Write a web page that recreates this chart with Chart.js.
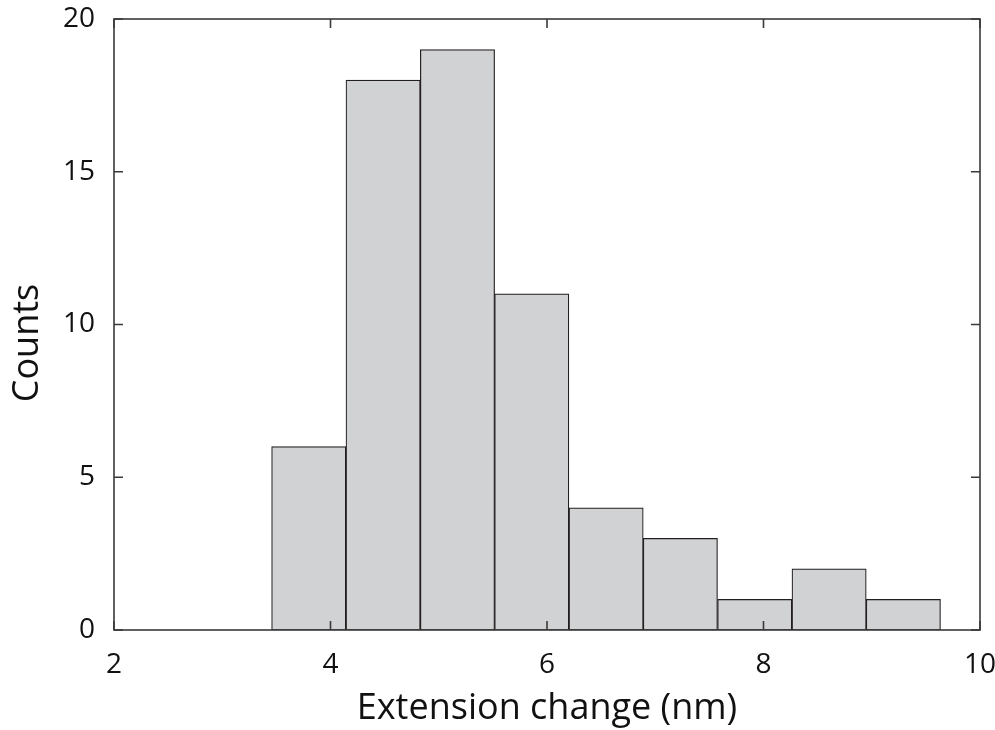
<!DOCTYPE html>
<html>
<head>
<meta charset="utf-8">
<script src="https://cdn.jsdelivr.net/npm/chart.js@4/dist/chart.umd.min.js"></script>
<style>
  html, body { margin: 0; padding: 0; background: #fff; }
  #wrap { width: 995px; height: 730px; }
</style>
</head>
<body>
<div id="wrap"><canvas id="hist"></canvas></div>
<script>
// histogram bins (centre of each bin, nm) and counts
var binCenters = [3.799, 4.486, 5.173, 5.859, 6.546, 7.232, 7.919, 8.606, 9.292];
var counts = [6, 18, 19, 11, 4, 3, 1, 2, 1];
var xTicks = [2, 4, 6, 8, 10];
var yTicks = [0, 5, 10, 15, 20];

var FONT = '"Open Sans", sans-serif';

// frame + inward ticks on all four sides, and the y title
var framePlugin = {
    id: 'frame',
    afterDatasetsDraw: function (chart) {
        var ctx = chart.ctx;
        var a = chart.chartArea;
        var xs = chart.scales.x, ys = chart.scales.y;
        var tl = 9;
        ctx.save();
        ctx.strokeStyle = '#3a3a3a';
        ctx.lineWidth = 1.6;
        ctx.strokeRect(a.left, a.top, a.right - a.left, a.bottom - a.top);
        ctx.beginPath();
        xTicks.forEach(function (v) {
            var px = xs.getPixelForValue(v);
            ctx.moveTo(px, a.bottom); ctx.lineTo(px, a.bottom - tl);
            ctx.moveTo(px, a.top); ctx.lineTo(px, a.top + tl);
        });
        yTicks.forEach(function (v) {
            var py = ys.getPixelForValue(v);
            ctx.moveTo(a.left, py); ctx.lineTo(a.left + tl, py);
            ctx.moveTo(a.right, py); ctx.lineTo(a.right - tl, py);
        });
        ctx.stroke();

        // y axis title
        ctx.fillStyle = '#111';
        ctx.font = '36px ' + FONT;
        ctx.textAlign = 'center';
        ctx.textBaseline = 'middle';
        ctx.translate(28, 343);
        ctx.rotate(-Math.PI / 2);
        ctx.fillText('Counts', 0, 0);
        ctx.restore();
    }
};

// drop the automatic label-overflow padding so the plot area is set by layout.padding
function noOverflow(scale) {
    scale.paddingTop = 0;
    scale.paddingBottom = 0;
    scale.paddingLeft = 0;
    scale.paddingRight = 0;
}

var ctx = document.getElementById('hist');
new Chart(ctx, {
    type: 'bar',
    data: {
        datasets: [{
            label: 'Counts',
            data: binCenters.map(function (c, i) { return { x: c, y: counts[i] }; }),
            backgroundColor: '#d1d2d4',
            borderColor: '#231f20',
            borderWidth: 1.2,
            borderSkipped: false,
            barPercentage: 1,
            categoryPercentage: 1
        }]
    },
    options: {
        responsive: true,
        maintainAspectRatio: false,
        animation: false,
        layout: { padding: { top: 19, right: 15, left: 0, bottom: 0 } },
        plugins: {
            legend: { display: false },
            tooltip: { enabled: false }
        },
        scales: {
            x: {
                type: 'linear',
                min: 2,
                max: 10,
                offset: false,
                afterFit: function (scale) { scale.height = 100; noOverflow(scale); },
                afterBuildTicks: function (scale) {
                    scale.ticks = xTicks.map(function (v) { return { value: v }; });
                },
                grid: { display: false, drawTicks: false },
                border: { display: false },
                ticks: {
                    color: '#111',
                    font: { family: FONT, size: 28 },
                    padding: 18,
                    maxRotation: 0
                },
                title: {
                    display: true,
                    text: 'Extension change (nm)',
                    color: '#111',
                    font: { family: FONT, size: 36 },
                    padding: { top: 0, bottom: 0 }
                }
            },
            y: {
                min: 0,
                max: 20,
                afterFit: function (scale) { scale.width = 114; noOverflow(scale); },
                afterBuildTicks: function (scale) {
                    scale.ticks = yTicks.map(function (v) { return { value: v }; });
                },
                grid: { display: false, drawTicks: false },
                border: { display: false },
                ticks: {
                    color: '#111',
                    font: { family: FONT, size: 28 },
                    padding: 19
                }
            }
        }
    },
    plugins: [framePlugin]
});
</script>
</body>
</html>
